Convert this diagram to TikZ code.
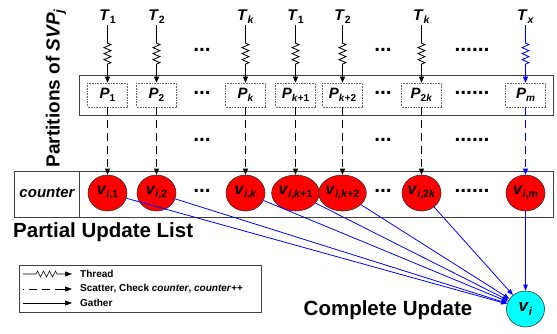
\documentclass[tikz,border=0pt]{standalone}
\usepackage{fontspec}
\setmainfont{Liberation Sans}
\usetikzlibrary{shapes.geometric,arrows.meta,decorations.pathmorphing}
\def\ssz{10}
\newlength\subdrop
\newcommand\lbl[2]{\setlength\subdrop{\ssz pt}\textbf{\textit{#1}\raisebox{-0.3\subdrop}{\fontsize{\ssz}{\ssz}\selectfont\bfseries #2}}}
\definecolor{pblue}{RGB}{0,0,255}
\definecolor{pred}{RGB}{255,0,0}
\definecolor{pcyan}{RGB}{0,255,255}
\tikzset{
  tlab/.style={inner sep=1pt,font=\fontsize{15.5}{18}\selectfont\def\ssz{10.5}},
  pbox/.style={draw=black!60,densely dotted,line width=0.6pt,minimum width=40pt,minimum height=24pt,inner sep=0pt,font=\fontsize{15}{16}\selectfont\def\ssz{10}},
  vnode/.style={ellipse,draw=black!80,line width=0.6pt,fill=pred,minimum width=39pt,minimum height=36pt,inner sep=0pt,font=\fontsize{16}{17}\selectfont\def\ssz{10.5}},
  finode/.style={ellipse,draw=black!80,line width=0.6pt,fill=pcyan,minimum width=38pt,minimum height=36pt,inner sep=0pt,font=\fontsize{17}{18}\selectfont\def\ssz{11.5}},
  dots/.style={inner sep=0pt,font=\fontsize{21}{22}\selectfont\bfseries},
  frame/.style={draw=black!75,line width=0.7pt},
  thread/.style={draw,line width=0.8pt,-{Triangle[length=6pt,width=5pt]},decorate,
     decoration={zigzag,segment length=6pt,amplitude=3.5pt,pre length=18pt,post length=18pt}},
  scatter/.style={draw,line width=0.8pt,dash pattern=on 8pt off 5pt,-{Triangle[length=6pt,width=5pt]}},
  gather/.style={draw=pblue,line width=0.8pt,-{Triangle[length=6pt,width=4.5pt]}},
  bigtext/.style={inner sep=0pt,font=\fontsize{20.5}{23}\selectfont\bfseries},
  legtext/.style={anchor=west,inner sep=0pt,font=\fontsize{10}{12}\selectfont\bfseries}
}
\begin{document}
\begin{tikzpicture}[x=1pt,y=-1pt]
\useasboundingbox (0,0) rectangle (557,333);
% frames
\draw[frame] (79,75) rectangle (553,115);
\draw[frame] (14,171) rectangle (553,217);
\draw[frame] (79,171) -- (79,217);
% texts
\node[rotate=90,inner sep=0pt,font=\fontsize{19}{21}\selectfont\bfseries] (part) at (56,88) {Partitions of \textit{SVP}\textsubscript{\textit{j}}};
\node[inner sep=0pt,font=\fontsize{15}{17}\selectfont\bfseries\itshape] (cnt) at (47,193) {counter};
\node[bigtext,anchor=west] (pul) at (13,232) {Partial Update List};
\node[bigtext] (cu) at (388,310) {Complete Update};
% threads
\node[tlab] (T1) at (107.5,17) {\lbl{T}{1}};
\node[tlab] (T2) at (156.5,17) {\lbl{T}{2}};
\node[tlab] (T3) at (245.5,17) {\lbl{T}{\textit{k}}};
\node[tlab] (T4) at (295.5,17) {\lbl{T}{1}};
\node[tlab] (T5) at (342.5,17) {\lbl{T}{2}};
\node[tlab] (T6) at (421.5,17) {\lbl{T}{\textit{k}}};
\node[tlab] (T7) at (525.5,17) {\lbl{T}{\textit{x}}};
% partitions
\node[pbox] (P1) at (107.5,95) {\lbl{P}{1}};
\node[pbox] (P2) at (156.5,95) {\lbl{P}{2}};
\node[pbox] (P3) at (245.5,95) {\lbl{P}{\textit{k}}};
\node[pbox] (P4) at (295.5,95) {\lbl{P}{\textit{k}+1}};
\node[pbox] (P5) at (342.5,95) {\lbl{P}{\textit{k}+2}};
\node[pbox] (P6) at (421.5,95) {\lbl{P}{2\textit{k}}};
\node[pbox] (P7) at (525.5,95) {\lbl{P}{\textit{m}}};
% partial updates
\node[vnode] (v1) at (107.5,193) {\lbl{v}{\textit{i},1}};
\node[vnode] (v2) at (156.5,193) {\lbl{v}{\textit{i},2}};
\node[vnode] (v3) at (245.5,193) {\lbl{v}{\textit{i},\textit{k}}};
\node[vnode] (v4) at (295.5,193) {\lbl{v}{\textit{i},\textit{k}+1}};
\node[vnode] (v5) at (342.5,193) {\lbl{v}{\textit{i},\textit{k}+2}};
\node[vnode] (v6) at (421.5,193) {\lbl{v}{\textit{i},2\textit{k}}};
\node[vnode] (v7) at (525.5,193) {\lbl{v}{\textit{i},\textit{m}}};
\node[finode] (vi) at (525.5,309) {\lbl{v}{\textit{i}}};
% dots
\foreach \y [count=\r] in {50,93,140,191}{
  \node[dots] (da\r) at (202,\y) {...};
  \node[dots] (db\r) at (383,\y) {...};
  \node[dots] (dc\r) at (472,\y) {......};
}
% connectors
\foreach \i in {1,...,6}{
  \path[thread] (T\i) -- (P\i);
  \draw[scatter] (P\i) -- (v\i);
}
\path[thread,draw=pblue] (T7) -- (P7);
\draw[scatter,draw=pblue] (P7) -- (v7);
\foreach \i in {1,...,7}{
  \draw[gather] (v\i) -- (vi);
}
% legend
\draw[frame,line width=0.6pt] (19,265) rectangle (261,312);
\coordinate (la) at (23,274); \coordinate (lb) at (72,274);
\coordinate (lc) at (23,289); \coordinate (ld) at (72,289);
\coordinate (le) at (23,303); \coordinate (lf) at (72,303);
\path[draw,line width=0.6pt,-{Triangle[length=7pt,width=5pt]},decorate,
  decoration={zigzag,segment length=6pt,amplitude=3pt,pre length=13pt,post length=14pt}] (la) -- (lb);
\draw[line width=0.6pt,dash pattern=on 1pt off 5pt on 8pt off 5pt on 8pt off 5pt on 30pt,-{Triangle[length=7pt,width=5pt]}] (lc) -- (ld);
\draw[line width=0.6pt,-{Triangle[length=7pt,width=5pt]}] (le) -- (lf);
\node[legtext] (lt1) at (80,274) {Thread};
\node[legtext] (lt2) at (80,289) {Scatter, Check \textit{counter}, \textit{counter}++};
\node[legtext] (lt3) at (80,303) {Gather};
\end{tikzpicture}
\end{document}
